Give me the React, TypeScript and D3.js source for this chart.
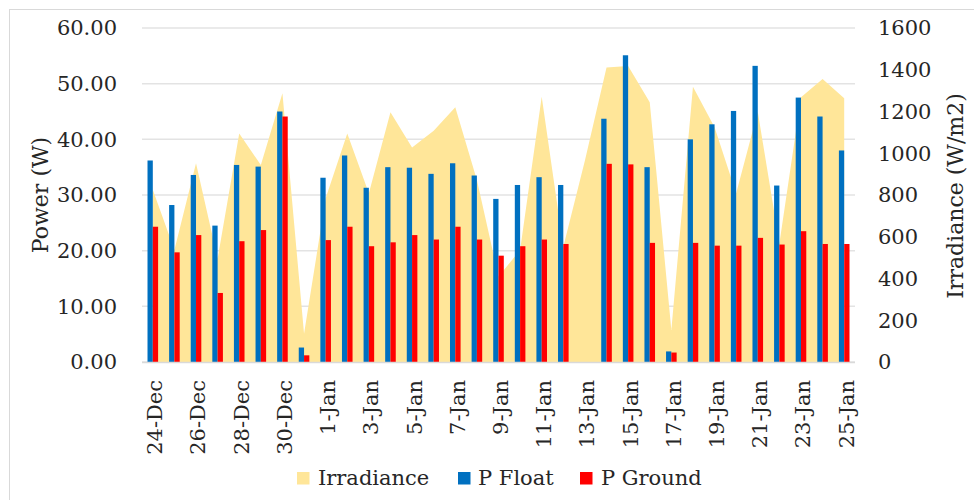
import React from "react";
import * as d3 from "d3";

const dates = [
  "24-Dec","25-Dec","26-Dec","27-Dec","28-Dec","29-Dec","30-Dec","31-Dec",
  "1-Jan","2-Jan","3-Jan","4-Jan","5-Jan","6-Jan","7-Jan","8-Jan","9-Jan","10-Jan",
  "11-Jan","12-Jan","13-Jan","14-Jan","15-Jan","16-Jan","17-Jan","18-Jan","19-Jan",
  "20-Jan","21-Jan","22-Jan","23-Jan","24-Jan","25-Jan",
];
const irradiance = [
  825, 536, 952, 495, 1095, 944, 1287, 135, 784, 1095, 808, 1196, 1028, 1108, 1220, 872, 409,
  536, 1271, 552, 965, 1411, 1418, 1244, 153, 1319, 1125, 808, 1199, 568, 1268, 1356, 1263,
];
const pFloat: (number | null)[] = [
  36.2, 28.2, 33.6, 24.5, 35.4, 35.1, 45.0, 2.6, 33.1, 37.1, 31.3, 35.0, 34.9, 33.8, 35.7, 33.5, 29.3,
  31.8, 33.2, 31.8, null, 43.7, 55.1, 35.0, 1.9, 40.0, 42.7, 45.1, 53.2, 31.7, 47.5, 44.1, 38.0,
];
const pGround: (number | null)[] = [
  24.3, 19.7, 22.8, 12.4, 21.7, 23.7, 44.1, 1.2, 21.9, 24.3, 20.8, 21.5, 22.8, 22.0, 24.3, 22.0, 19.1,
  20.8, 22.0, 21.2, null, 35.6, 35.5, 21.4, 1.7, 21.4, 20.9, 20.9, 22.3, 21.1, 23.5, 21.2, 21.2,
];
const leftTicks = [0, 10, 20, 30, 40, 50, 60];
const rightTicks = [0, 200, 400, 600, 800, 1000, 1200, 1400, 1600];
const seriesNames = ["Irradiance", "P Float", "P Ground"];

const COL_IRR = "#FFE699";
const COL_FLOAT = "#0070C0";
const COL_GROUND = "#FF0000";
const FONT = "'DejaVu Serif', serif";

export default function App() {
  const left = 142, right = 855, top = 28, bottom = 362;
  const x = d3.scaleBand<string>().domain(dates).range([left, right]).padding(0);
  const bw = x.bandwidth();
  const cx = (d: string) => (x(d) as number) + bw / 2;
  const yL = d3.scaleLinear().domain([0, 60]).range([bottom, top]);
  const yR = d3.scaleLinear().domain([0, 1600]).range([bottom, top]);
  const barW = bw * 0.245;

  const area = d3
    .area<number>()
    .x((_, i) => cx(dates[i]))
    .y0(yR(0))
    .y1((d) => yR(d))
    .curve(d3.curveLinear);

  const legendItems = [
    { name: seriesNames[0], color: COL_IRR, sx: 297, tx: 318 },
    { name: seriesNames[1], color: COL_FLOAT, sx: 458, tx: 478 },
    { name: seriesNames[2], color: COL_GROUND, sx: 580, tx: 601 },
  ];

  return (
    <svg
      width={974}
      height={500}
      style={{ position: "absolute", left: 0, top: 0, background: "#fff" }}
      fontFamily={FONT}
    >
      <rect x={0} y={0} width={974} height={500} fill="#fff" />
      <rect x={9.5} y={9.5} width={1000} height={1000} fill="none" stroke="#D9D9D9" strokeWidth={1} />
      {leftTicks.map((t) => (
        <line key={"g" + t} x1={left} x2={right} y1={yL(t)} y2={yL(t)} stroke="#E3E3E3" strokeWidth={1.5} />
      ))}
      <path d={area(irradiance) || ""} fill={COL_IRR} />
      {dates.map((d, i) =>
        pFloat[i] == null ? null : (
          <rect key={"f" + i} x={cx(d) - barW} y={yL(pFloat[i] as number)} width={barW}
            height={yL(0) - yL(pFloat[i] as number)} fill={COL_FLOAT} />
        )
      )}
      {dates.map((d, i) =>
        pGround[i] == null ? null : (
          <rect key={"r" + i} x={cx(d)} y={yL(pGround[i] as number)} width={barW}
            height={yL(0) - yL(pGround[i] as number)} fill={COL_GROUND} />
        )
      )}
      <line x1={left} x2={right} y1={bottom + 0.5} y2={bottom + 0.5} stroke="#D9D9D9" strokeWidth={1.5} />
      {leftTicks.map((t) => (
        <text key={"l" + t} x={117} y={yL(t)} dy="0.35em" textAnchor="end" fontSize={21} fill="#262626">
          {t.toFixed(2)}
        </text>
      ))}
      {rightTicks.map((t) => (
        <text key={"rt" + t} x={878} y={yR(t)} dy="0.35em" textAnchor="start" fontSize={21} fill="#262626">
          {t}
        </text>
      ))}
      {dates.map((d, i) =>
        i % 2 === 0 ? (
          <text key={"x" + i} transform={`translate(${cx(d)},380) rotate(-90)`} dy="0.45em"
            textAnchor="end" fontSize={21} fill="#262626">
            {d}
          </text>
        ) : null
      )}
      <text transform="translate(40,195) rotate(-90)" dy="0.35em" textAnchor="middle" fontSize={22} fill="#262626">
        Power (W)
      </text>
      <text transform="translate(955,196) rotate(-90)" dy="0.35em" textAnchor="middle" fontSize={22} fill="#262626">
        Irradiance (W/m2)
      </text>
      {legendItems.map((it) => (
        <g key={it.name}>
          <rect x={it.sx} y={472} width={12.5} height={12.5} fill={it.color} />
          <text x={it.tx} y={478} dy="0.35em" fontSize={21} fill="#262626">
            {it.name}
          </text>
        </g>
      ))}
    </svg>
  );
}
